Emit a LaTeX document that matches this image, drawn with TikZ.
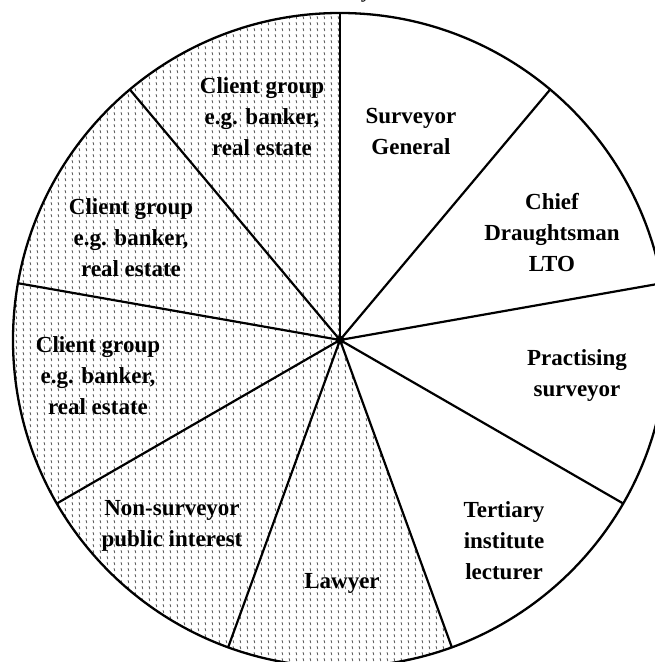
\documentclass[tikz,border=0pt]{standalone}
\usepackage{fontspec}
\setmainfont{Liberation Serif}
\usetikzlibrary{patterns.meta,calc}

% fine slanted stipple used for the shaded sectors
\tikzdeclarepattern{
  name=stipple,
  type=uncolored,
  bounding box={(-0.5pt,-0.5pt) and (7.5pt,6.5pt)},
  tile size={(7pt,6pt)},
  code={\draw[line width=0.75pt] (2pt,3.8pt) -- (2.8pt,1pt);}
}

\tikzset{
  rim/.style={line width=2.3pt},
  spoke/.style={line width=2.2pt},
  lbl/.style={font=\fontsize{23}{31}\selectfont\bfseries, align=center, inner sep=0pt},
  shade/.style={pattern=stipple, pattern color=black!70}
}

\begin{document}
\begin{tikzpicture}[x=1pt,y=1pt]
  \useasboundingbox (0,0) rectangle (655,662);
  \def\R{327}
  \coordinate (C) at (340,322);

  % shaded half: from 90 deg round to 290 deg
  \fill[shade] (C) -- ++(90:\R) arc[start angle=90, end angle=290, radius=\R] -- cycle;

  % spoke ends on the rim
  \foreach \a/\n in {90/p1, 50/p2, 10/p3, -30/p4, -70/p5, -110/p6, -150/p7, 170/p8, 130/p9}
    \coordinate (\n) at ($(C)+(\a:\R)$);
  \foreach \n in {p1,p2,p3,p4,p5,p6,p7,p8,p9}
    \draw[spoke] (C) -- (\n);

  \draw[rim] (C) circle[radius=\R];
  \fill (C) circle[radius=4.5];

  % tail of the caption letter above the circle
  \node[font=\fontsize{22}{30}\selectfont\itshape, anchor=base, inner sep=0pt] (cap) at (368,664) {y};

  % sector labels
  \node[lbl] (sg) at (411,530) {Surveyor\\General};
  \node[lbl] (cd) at (552,429) {Chief\\Draughtsman\\LTO};
  \node[lbl] (ps) at (577,286) {Practising\\surveyor};
  \node[lbl] (ti) at (504,121) {Tertiary\\institute\\lecturer};
  \node[lbl] (lw) at (342,79) {Lawyer};
  \node[lbl] (ns) at (172,136) {Non-surveyor\\public interest};
  \node[lbl] (cl) at (98,286) {Client group\\e.g. banker,\\real estate};
  \node[lbl] (cm) at (131,424) {Client group\\e.g. banker,\\real estate};
  \node[lbl] (ct) at (262,545) {Client group\\e.g. banker,\\real estate};
\end{tikzpicture}
\end{document}
